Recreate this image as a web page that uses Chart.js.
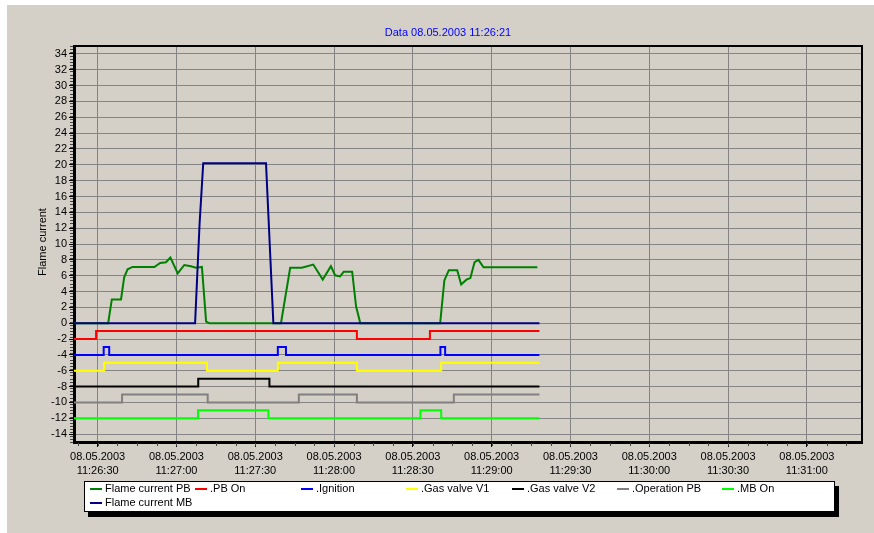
<!DOCTYPE html>
<html><head><meta charset="utf-8">
<script src="https://cdn.jsdelivr.net/npm/chart.js@4.4.0/dist/chart.umd.min.js"></script>
<style>html,body{margin:0;padding:0;background:#fff;overflow:hidden}#wrap{width:874px;height:533px;position:relative}</style>
</head><body><div id="wrap"><canvas id="c" width="874" height="533"></canvas></div>
<script>
// ---- texts / ticks ----
const chartTitle = 'Data 08.05.2003 11:26:21';
const yAxisTitle = 'Flame current';
const dateLabel = '08.05.2003';
const originClock = [11, 26, 0];           // x values are seconds after this clock time
const xTickSeconds = [30, 60, 90, 120, 150, 180, 210, 240, 270, 300];
const yTickValues = [-14, -12, -10, -8, -6, -4, -2, 0, 2, 4, 6, 8, 10, 12, 14, 16, 18, 20, 22, 24, 26, 28, 30, 32, 34];
const seriesNames = ['Flame current PB', '.PB On', '.Ignition', '.Gas valve V1', '.Gas valve V2', '.Operation PB', '.MB On', 'Flame current MB'];
const seriesColors = ['#008000', '#ff0000', '#0000ff', '#ffff00', '#000000', '#808080', '#00ff00', '#000080'];

// ---- series (time in s after 11:26:00, value) ----
const flamePbTimes  = [21, 34.0, 35.4, 38.9, 40.1, 41.4, 43.3, 51.6, 53.8, 56.0, 57.7, 60.5, 63.0, 65.5, 67.4, 69.7, 71.3, 72.5, 99.8, 103.3, 107.7, 112.1, 115.7, 118.8, 120.4, 122.3, 123.7, 126.9, 128.4, 130.0, 160.4, 162.0, 163.7, 166.9, 168.4, 170.4, 171.9, 173.5, 175.0, 176.9, 197.4];
const flamePbValues = [0, 0, 3.0, 3.0, 5.8, 6.8, 7.1, 7.1, 7.6, 7.7, 8.3, 6.3, 7.35, 7.2, 7.0, 7.1, 0.2, 0, 0, 7.0, 7.0, 7.4, 5.5, 7.2, 6.05, 5.9, 6.5, 6.5, 2.1, 0, 0, 5.4, 6.7, 6.7, 4.9, 5.5, 5.7, 7.7, 8.0, 7.05, 7.05];

const pbOnTimes  = [21, 29.4, 128.7, 156.5, 198.2];
const pbOnValues = [-2, -1, -2, -1, -1];

const ignitionTimes  = [21, 32.3, 34.4, 98.6, 101.7, 160.5, 162.3, 198.2];
const ignitionValues = [-4, -3, -4, -3, -4, -3, -4, -4];

const gasV1Times  = [21, 32.5, 71.6, 98.6, 128.7, 160.8, 198.2];
const gasV1Values = [-6, -5, -6, -5, -6, -5, -5];

const gasV2Times  = [21, 68.3, 95.4, 198.2];
const gasV2Values = [-8, -7, -8, -8];

const opPbTimes  = [21, 39.3, 71.9, 106.6, 128.7, 165.6, 198.2];
const opPbValues = [-10, -9, -10, -9, -10, -9, -9];

const mbOnTimes  = [21, 68.2, 95.0, 152.9, 160.8, 198.2];
const mbOnValues = [-12, -11, -12, -11, -12, -12];

const flameMbTimes  = [21, 67.1, 68.8, 70.2, 94.1, 96.9, 198.2];
const flameMbValues = [0, 0, 12.5, 20.2, 20.2, 0, 0];

// ---- build ----
const FONT = 'Liberation Sans, Arial, sans-serif';
const pts = (t, v) => t.map((x, i) => ({x: x, y: v[i]}));
function clock(s) {
  let tot = originClock[0] * 3600 + originClock[1] * 60 + originClock[2] + s;
  const h = Math.floor(tot / 3600), m = Math.floor((tot % 3600) / 60), sec = Math.round(tot % 60);
  const p = n => String(n).padStart(2, '0');
  return p(h) + ':' + p(m) + ':' + p(sec);
}
const seriesData = [
  {d: pts(flamePbTimes, flamePbValues), stepped: false, order: 1},
  {d: pts(pbOnTimes, pbOnValues), stepped: 'before', order: 2},
  {d: pts(ignitionTimes, ignitionValues), stepped: 'before', order: 3},
  {d: pts(gasV1Times, gasV1Values), stepped: 'before', order: 4},
  {d: pts(gasV2Times, gasV2Values), stepped: 'before', order: 5},
  {d: pts(opPbTimes, opPbValues), stepped: 'before', order: 6},
  {d: pts(mbOnTimes, mbOnValues), stepped: 'before', order: 7},
  {d: pts(flameMbTimes, flameMbValues), stepped: false, order: 0}
];
const datasets = seriesData.map((s, i) => ({
  label: seriesNames[i], data: s.d, borderColor: seriesColors[i], backgroundColor: seriesColors[i],
  borderWidth: 2, pointRadius: 0, tension: 0, stepped: s.stepped, order: s.order, fill: false
}));

const decor = {
  id: 'decor',
  beforeDraw(chart) {
    const ctx = chart.ctx;
    ctx.save();
    ctx.fillStyle = '#ffffff'; ctx.fillRect(0, 0, chart.width, chart.height);
    ctx.fillStyle = '#d4d0c8'; ctx.fillRect(7, 5, chart.width - 7, chart.height - 5);
    ctx.restore();
  },
  afterDraw(chart) {
    const ctx = chart.ctx, a = chart.chartArea, xs = chart.scales.x, ys = chart.scales.y;
    ctx.save();
    // top and right frame
    ctx.strokeStyle = '#000'; ctx.lineWidth = 2;
    ctx.beginPath(); ctx.moveTo(a.left, a.top); ctx.lineTo(a.right, a.top); ctx.lineTo(a.right, a.bottom); ctx.stroke();
    // minor ticks
    ctx.lineWidth = 1; ctx.strokeStyle = '#444';
    ctx.beginPath();
    for (let s = 22.5; s < xs.max; s += 7.5) {
      const px = Math.round(xs.getPixelForValue(s)) + 0.5;
      ctx.moveTo(px, a.bottom + 1); ctx.lineTo(px, a.bottom + 4);
    }
    for (let v = -15; v <= 35.001; v += 0.4) {
      const py = Math.round(ys.getPixelForValue(v)) + 0.5;
      ctx.moveTo(a.left - 4, py); ctx.lineTo(a.left - 1, py);
    }
    ctx.stroke();
    // title
    ctx.fillStyle = '#0000ff'; ctx.font = '11px ' + FONT; ctx.textAlign = 'center'; ctx.textBaseline = 'middle';
    ctx.fillText(chartTitle, 448, 33);
    // y axis title
    ctx.fillStyle = '#000';
    ctx.translate(43, 242); ctx.rotate(-Math.PI / 2); ctx.fillText(yAxisTitle, 0, 0);
    ctx.setTransform(1, 0, 0, 1, 0, 0);
    // legend box
    const bx = 84, by = 481, bw = 751, bh = 31;
    ctx.fillStyle = '#000'; ctx.fillRect(bx + 4, by + 5, bw, bh);
    ctx.fillStyle = '#fff'; ctx.fillRect(bx, by, bw, bh);
    ctx.strokeStyle = '#000'; ctx.lineWidth = 1; ctx.strokeRect(bx + 0.5, by + 0.5, bw - 1, bh - 1);
    ctx.textAlign = 'left'; ctx.textBaseline = 'middle'; ctx.font = '11px ' + FONT;
    seriesNames.forEach((name, i) => {
      const col = i < 7 ? i : 0, row = i < 7 ? 0 : 1;
      const lx = 90 + col * 105.4, ly = 489 + row * 14;
      ctx.fillStyle = seriesColors[i]; ctx.fillRect(Math.round(lx), ly - 1, 12, 2);
      ctx.fillStyle = '#000'; ctx.fillText(name, Math.round(lx) + 15, ly);
    });
    ctx.restore();
  }
};

new Chart(document.getElementById('c'), {
  type: 'line',
  data: {datasets: datasets},
  options: {
    responsive: false, animation: false, devicePixelRatio: 1,
    layout: {padding: {left: 0, top: 46, right: 12, bottom: 0}},
    plugins: {legend: {display: false}, title: {display: false}, tooltip: {enabled: false}},
    scales: {
      x: {
        type: 'linear', min: 21, max: 321,
        afterBuildTicks: s => { s.ticks = xTickSeconds.map(v => ({value: v})); },
        afterFit: s => { s.height = 91; },
        ticks: {callback: v => [dateLabel, clock(v)], maxRotation: 0, autoSkip: false, color: '#000', padding: 3,
                font: {family: FONT, size: 11, lineHeight: 1.27}},
        grid: {color: '#848484', lineWidth: 1, tickColor: '#000', tickLength: 5},
        border: {color: '#000', width: 3}
      },
      y: {
        type: 'linear', min: -15, max: 35,
        afterBuildTicks: s => { s.ticks = yTickValues.map(v => ({value: v})); },
        afterFit: s => { s.width = 74; },
        ticks: {callback: v => String(v), color: '#000', padding: 2, font: {family: FONT, size: 11}},
        grid: {color: '#848484', lineWidth: 1, tickColor: '#000', tickLength: 5},
        border: {color: '#000', width: 3}
      }
    }
  },
  plugins: [decor]
});
</script></body></html>
